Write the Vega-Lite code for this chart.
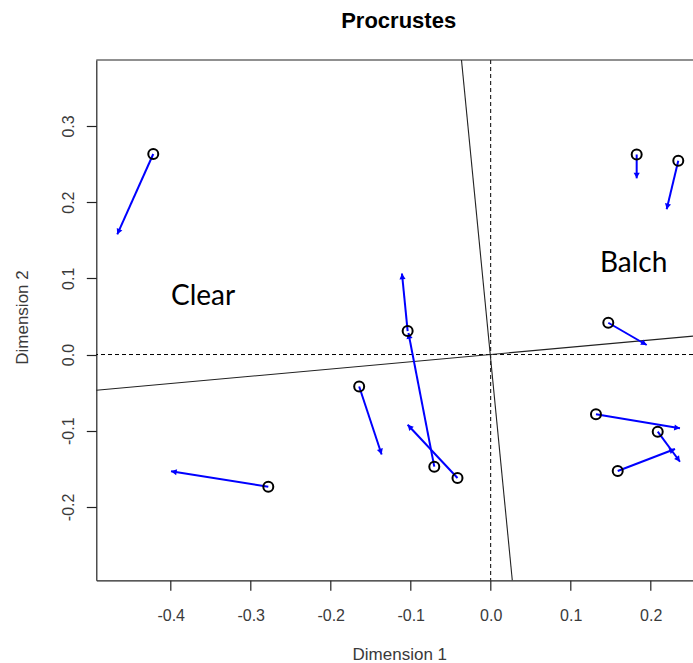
{
  "$schema": "https://vega.github.io/schema/vega-lite/v6.json",
  "autosize": {"type": "none"},
  "width": 596.7,
  "height": 520.3,
  "padding": {"left": 96.3, "top": 60, "right": 0, "bottom": 82.7},
  "background": "white",
  "config": {
    "view": {"stroke": null},
    "font": "Liberation Sans",
    "axis": {"grid": false, "domainColor": "#222", "tickColor": "#222", "domainWidth": 1.2, "tickWidth": 1.2, "labelColor": "#3a3a3a", "titleColor": "#3a3a3a", "labelFont": "Liberation Sans", "titleFont": "Liberation Sans", "titleFontWeight": "normal"}
  },
  "title": {"text": "Procrustes", "font": "Liberation Sans", "fontSize": 22, "fontWeight": "bold", "color": "#000", "anchor": "middle", "baseline": "alphabetic", "offset": 9, "dx": 4},
  "datasets": {
    "pts": [
      {"x0": -0.4218, "y0": 0.2631, "x1": -0.4668, "y1": 0.1577},
      {"x0": -0.2780, "y0": -0.1735, "x1": -0.3996, "y1": -0.1533},
      {"x0": -0.1644, "y0": -0.0419, "x1": -0.1363, "y1": -0.1312},
      {"x0": -0.0415, "y0": -0.1621, "x1": -0.1038, "y1": -0.0921},
      {"x0": -0.0705, "y0": -0.1472, "x1": -0.1028, "y1": 0.0282},
      {"x0": -0.1038, "y0": 0.0308, "x1": -0.1109, "y1": 0.1063},
      {"x0": 0.1470, "y0": 0.0417, "x1": 0.1950, "y1": 0.0125},
      {"x0": 0.1316, "y0": -0.0785, "x1": 0.2366, "y1": -0.0969},
      {"x0": 0.2088, "y0": -0.1013, "x1": 0.2366, "y1": -0.1407},
      {"x0": 0.1588, "y0": -0.1529, "x1": 0.2304, "y1": -0.1240},
      {"x0": 0.1825, "y0": 0.2625, "x1": 0.1825, "y1": 0.2312},
      {"x0": 0.2345, "y0": 0.2543, "x1": 0.2200, "y1": 0.1906}
    ],
    "rot": [
      {"x": -0.493, "y": -0.0469, "x2": 0.2529, "y2": 0.0241},
      {"x": -0.0365, "y": 0.3865, "x2": 0.027, "y2": -0.2963}
    ],
    "labels": [
      {"x": -0.3996, "y": 0.065, "text": "Clear"},
      {"x": 0.1366, "y": 0.1087, "text": "Balch"}
    ]
  },
  "layer": [
    {
      "data": {"values": [{"v": 0}]},
      "mark": {"type": "rule", "color": "#000", "strokeWidth": 1, "strokeDash": [4, 3]},
      "encoding": {
        "y": {"field": "v", "type": "quantitative", "title": "Dimension 2", "scale": {"domain": [-0.2963, 0.3865], "nice": false, "zero": false}, "axis": {"orient": "left", "values": [-0.2, -0.1, 0, 0.1, 0.2, 0.3], "format": ".1f", "labelExpr": "replace(datum.label, '\u2212', '-')", "tickSize": 10, "labelFontSize": 16, "labelAngle": 270, "labelAlign": "center", "labelBaseline": "alphabetic", "labelPadding": 13, "title": "Dimension 2", "titleFontSize": 17, "titleAngle": 270, "titleAlign": "center", "titleBaseline": "alphabetic", "titleX": -69, "titleY": 257}}
      }
    },
    {
      "data": {"values": [{"v": 0}]},
      "mark": {"type": "rule", "color": "#000", "strokeWidth": 1, "strokeDash": [4, 3]},
      "encoding": {
        "x": {"field": "v", "type": "quantitative", "title": "Dimension 1", "scale": {"domain": [-0.493, 0.2529], "nice": false, "zero": false}, "axis": {"orient": "bottom", "values": [-0.4, -0.3, -0.2, -0.1, 0, 0.1, 0.2], "format": ".1f", "labelExpr": "replace(datum.label, '\u2212', '-')", "tickSize": 10, "labelFontSize": 16, "labelPadding": 17, "title": "Dimension 1", "titleFontSize": 17, "titleBaseline": "alphabetic", "titleX": 303, "titleY": 79}}
      }
    },
    {
      "data": {"values": [{"v": 0.3865}]},
      "mark": {"type": "rule", "color": "#222", "strokeWidth": 1.2},
      "encoding": {
        "y": {"field": "v", "type": "quantitative", "title": "Dimension 2"}
      }
    },
    {
      "data": {"name": "rot"},
      "mark": {"type": "rule", "color": "#222", "strokeWidth": 1.1},
      "encoding": {
        "x": {"field": "x", "type": "quantitative", "title": "Dimension 1"},
        "y": {"field": "y", "type": "quantitative", "title": "Dimension 2"},
        "x2": {"field": "x2"},
        "y2": {"field": "y2"}
      }
    },
    {
      "data": {"name": "pts"},
      "mark": {"type": "rule", "color": "#0000FF", "strokeWidth": 2},
      "encoding": {
        "x": {"field": "x0", "type": "quantitative", "title": "Dimension 1"},
        "y": {"field": "y0", "type": "quantitative", "title": "Dimension 2"},
        "x2": {"field": "x1"},
        "y2": {"field": "y1"}
      }
    },
    {
      "data": {"name": "pts"},
      "transform": [{"calculate": "atan2((datum.x1 - datum.x0) * 800, (datum.y1 - datum.y0) * 762) * 180 / PI", "as": "ang"}],
      "mark": {"type": "point", "shape": "M0,0L-0.65,1.2L0.65,1.2Z", "filled": true, "color": "#0000FF", "size": 90, "opacity": 1},
      "encoding": {
        "x": {"field": "x1", "type": "quantitative", "title": "Dimension 1"},
        "y": {"field": "y1", "type": "quantitative", "title": "Dimension 2"},
        "angle": {"field": "ang", "type": "quantitative", "scale": null}
      }
    },
    {
      "data": {"name": "pts"},
      "mark": {"type": "point", "shape": "circle", "filled": false, "color": "#000", "size": 100, "strokeWidth": 2, "opacity": 1},
      "encoding": {
        "x": {"field": "x0", "type": "quantitative", "title": "Dimension 1"},
        "y": {"field": "y0", "type": "quantitative", "title": "Dimension 2"}
      }
    },
    {
      "data": {"name": "labels"},
      "mark": {"type": "text", "font": "Lato", "fontSize": 28, "color": "#000", "align": "left", "baseline": "alphabetic"},
      "encoding": {
        "x": {"field": "x", "type": "quantitative", "title": "Dimension 1"},
        "y": {"field": "y", "type": "quantitative", "title": "Dimension 2"},
        "text": {"field": "text"}
      }
    }
  ]
}
